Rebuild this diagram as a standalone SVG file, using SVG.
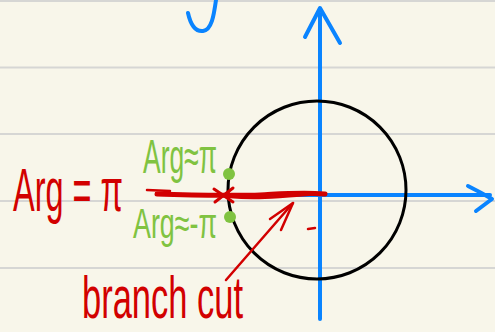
<svg xmlns="http://www.w3.org/2000/svg" width="495" height="332" viewBox="0 0 495 332">
<style>
.rule{stroke:#d6d6d4;stroke-width:2}
.blue{stroke:#0a84ff;stroke-width:4;fill:none;stroke-linecap:round;stroke-linejoin:round}
.red{stroke:#d20000;fill:none;stroke-linecap:round;stroke-linejoin:round}
.rt{fill:#d20000;font-family:"Liberation Sans",Arial,sans-serif}
.gt{fill:#80c341;font-family:"Liberation Sans",Arial,sans-serif}
</style>
<rect width="495" height="332" fill="#f8f6ea"/>
<g id="rules">
<line class="rule" x1="0" y1="1" x2="495" y2="1"/>
<line class="rule" x1="0" y1="67.5" x2="495" y2="67.5"/>
<line class="rule" x1="0" y1="134" x2="495" y2="134"/>
<line class="rule" x1="0" y1="201" x2="495" y2="201"/>
<line class="rule" x1="0" y1="268" x2="495" y2="268"/>
</g>
<g id="top-stroke">
<path class="blue" d="M216 0 C214 14 212 30 203 31 C194 32 190 22 188 13"/>
</g>
<g id="axes">
<line class="blue" x1="320" y1="14" x2="320" y2="319"/>
<path class="blue" d="M305 37 L320 8 L340 43"/>
<line class="blue" x1="225" y1="195" x2="490" y2="195"/>
<path class="blue" d="M468 186 Q480 192 492 199 Q484 205 476 211"/>
</g>
<g id="circle">
<circle cx="317" cy="190" r="89" fill="none" stroke="#000" stroke-width="3"/>
</g>
<g id="branch-cut-line">
<path class="red" stroke-width="2.5" d="M147 190 L170 191"/>
<path class="red" stroke-width="5" d="M157 194 C200 195 230 196 260 195 C280 194 300 192 325 194"/>
<path class="red" stroke-width="2.5" d="M230 197 C260 200 290 196 320 194"/>
<path class="red" stroke-width="3" d="M214 189 L233 202 M215 202 L233 188"/>
<path class="red" stroke-width="2.5" d="M308 229 L315 228"/>
</g>
<g id="dots">
<circle cx="229" cy="174" r="6" fill="#80c341"/>
<circle cx="230" cy="217" r="6" fill="#80c341"/>
</g>
<g id="labels">
<text class="rt" font-size="34" textLength="110" lengthAdjust="spacingAndGlyphs" transform="translate(13,211) scale(1,1.8)">Arg = π</text>
<text class="gt" font-size="27" textLength="74" lengthAdjust="spacingAndGlyphs" transform="translate(143,173) scale(1,1.8)">Arg≈π</text>
<text class="gt" font-size="27" textLength="84" lengthAdjust="spacingAndGlyphs" transform="translate(133,238) scale(1,1.6)">Arg≈-π</text>
<text class="rt" font-size="35" textLength="161" lengthAdjust="spacingAndGlyphs" transform="translate(82,318) scale(1,1.7)">branch cut</text>
</g>
<g id="connectors">
<path class="red" stroke-width="2.5" d="M226 280 L293 203"/>
<path class="red" stroke-width="2.5" d="M270 219 L293 203 L281 230"/>
</g>
</svg>
